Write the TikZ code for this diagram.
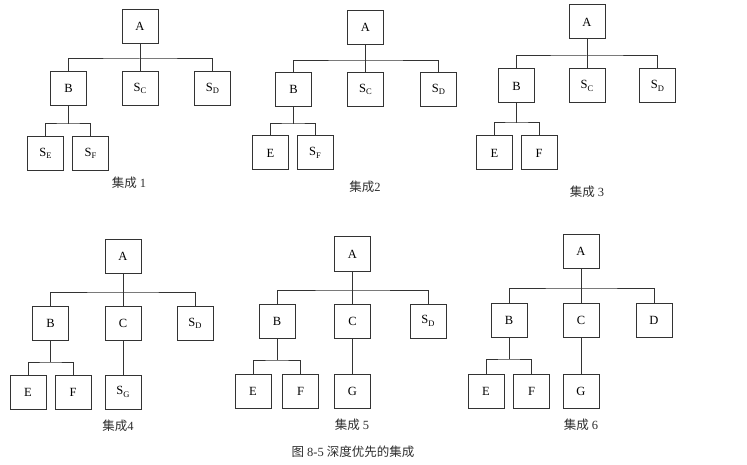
\documentclass[tikz,border=0pt]{standalone}
\usepackage{fontspec}
\setmainfont{Liberation Serif}
\newfontfamily\cjk{Noto Sans CJK SC}
\usetikzlibrary{positioning}
\definecolor{Ink}{HTML}{2E2E2E}
\definecolor{Edge}{HTML}{333333}
\newcommand{\Sx}[1]{S\raisebox{-0.4ex}{\fontsize{8.5}{9}\selectfont #1}}
\tikzset{box/.style={draw=Edge,line width=1pt,minimum width=36pt,minimum height=34pt,inner sep=0pt,font=\fontsize{12.5}{14}\selectfont},
link/.style={draw=Edge,line width=1pt},
subtitle/.style={text=Ink,inner sep=0pt,font=\fontsize{12.5}{15}\selectfont}}

\begin{document}
\begin{tikzpicture}[x=1pt,y=-1pt]
\useasboundingbox (0,0) rectangle (747,465);
% 集成 1
\node[box] (a1) at (140,26.5) {A};
\node[box] (b1) at (68.5,88.5) {B};
\node[box] (c1) at (140,88.5) {\Sx{C}};
\node[box] (d1) at (212.5,88.5) {\Sx{D}};
\node[box] (e1) at (45.5,153.5) {\Sx{E}};
\node[box] (f1) at (90.5,153.5) {\Sx{F}};
\coordinate (j1) at (140,59);
\coordinate (k1) at (68.5,124);
\draw[link] (a1) -- (c1);
\draw[link] (b1) |- (j1) -| (d1);
\draw[link] (b1) -- (k1);
\draw[link] (e1) |- (k1) -| (f1);
\node[subtitle] (t1) at (129,183) {{\cjk 集成} 1};
% 集成 2
\node[box] (a2) at (365.5,27.5) {A};
\node[box] (b2) at (293.5,89.5) {B};
\node[box] (c2) at (365.5,89.5) {\Sx{C}};
\node[box] (d2) at (438.5,89.5) {\Sx{D}};
\node[box] (e2) at (270.5,153) {E};
\node[box] (f2) at (315,153) {\Sx{F}};
\coordinate (j2) at (365.5,61);
\coordinate (k2) at (293.5,124);
\draw[link] (a2) -- (c2);
\draw[link] (b2) |- (j2) -| (d2);
\draw[link] (b2) -- (k2);
\draw[link] (e2) |- (k2) -| (f2);
\node[subtitle] (t2) at (365,187) {{\cjk 集成}2};
% 集成 3
\node[box] (a3) at (587,22) {A};
\node[box] (b3) at (516.5,86) {B};
\node[box] (c3) at (587,86) {\Sx{C}};
\node[box] (d3) at (657.5,86) {\Sx{D}};
\node[box] (e3) at (494.5,153) {E};
\node[box] (f3) at (539,153) {F};
\coordinate (j3) at (587,56);
\coordinate (k3) at (516.5,123);
\draw[link] (a3) -- (c3);
\draw[link] (b3) |- (j3) -| (d3);
\draw[link] (b3) -- (k3);
\draw[link] (e3) |- (k3) -| (f3);
\node[subtitle] (t3) at (587,192) {{\cjk 集成} 3};
% 集成 4
\node[box] (a4) at (123,256.5) {A};
\node[box] (b4) at (50.5,323.5) {B};
\node[box] (c4) at (123,323.5) {C};
\node[box] (d4) at (195,323.5) {\Sx{D}};
\node[box] (e4) at (28,392) {E};
\node[box] (f4) at (73,392) {F};
\node[box] (g4) at (123,392) {\Sx{G}};
\coordinate (j4) at (123,292);
\coordinate (k4) at (50.5,362);
\draw[link] (a4) -- (c4);
\draw[link] (b4) |- (j4) -| (d4);
\draw[link] (b4) -- (k4);
\draw[link] (e4) |- (k4) -| (f4);
\draw[link] (c4) -- (g4);
\node[subtitle] (t4) at (118,426) {{\cjk 集成}4};
% 集成 5
\node[box] (a5) at (352.5,254) {A};
\node[box] (b5) at (277,321) {B};
\node[box] (c5) at (352.5,321) {C};
\node[box] (d5) at (428,321) {\Sx{D}};
\node[box] (e5) at (253,391.5) {E};
\node[box] (f5) at (300.5,391.5) {F};
\node[box] (g5) at (352.5,391) {G};
\coordinate (j5) at (352.5,290);
\coordinate (k5) at (277,360);
\draw[link] (a5) -- (c5);
\draw[link] (b5) |- (j5) -| (d5);
\draw[link] (b5) -- (k5);
\draw[link] (e5) |- (k5) -| (f5);
\draw[link] (c5) -- (g5);
\node[subtitle] (t5) at (352,425) {{\cjk 集成} 5};
% 集成 6
\node[box] (a6) at (581,251.5) {A};
\node[box] (b6) at (509,320) {B};
\node[box] (c6) at (581,320) {C};
\node[box] (d6) at (654,320) {D};
\node[box] (e6) at (486,391.5) {E};
\node[box] (f6) at (531.5,391.5) {F};
\node[box] (g6) at (581,391) {G};
\coordinate (j6) at (581,288);
\coordinate (k6) at (509,359);
\draw[link] (a6) -- (c6);
\draw[link] (b6) |- (j6) -| (d6);
\draw[link] (b6) -- (k6);
\draw[link] (e6) |- (k6) -| (f6);
\draw[link] (c6) -- (g6);
\node[subtitle] (t6) at (581,425) {{\cjk 集成} 6};
\node[subtitle] (fig) at (353,452) {{\cjk 图} 8-5 {\cjk 深度优先的集成}};
\end{tikzpicture}
\end{document}
